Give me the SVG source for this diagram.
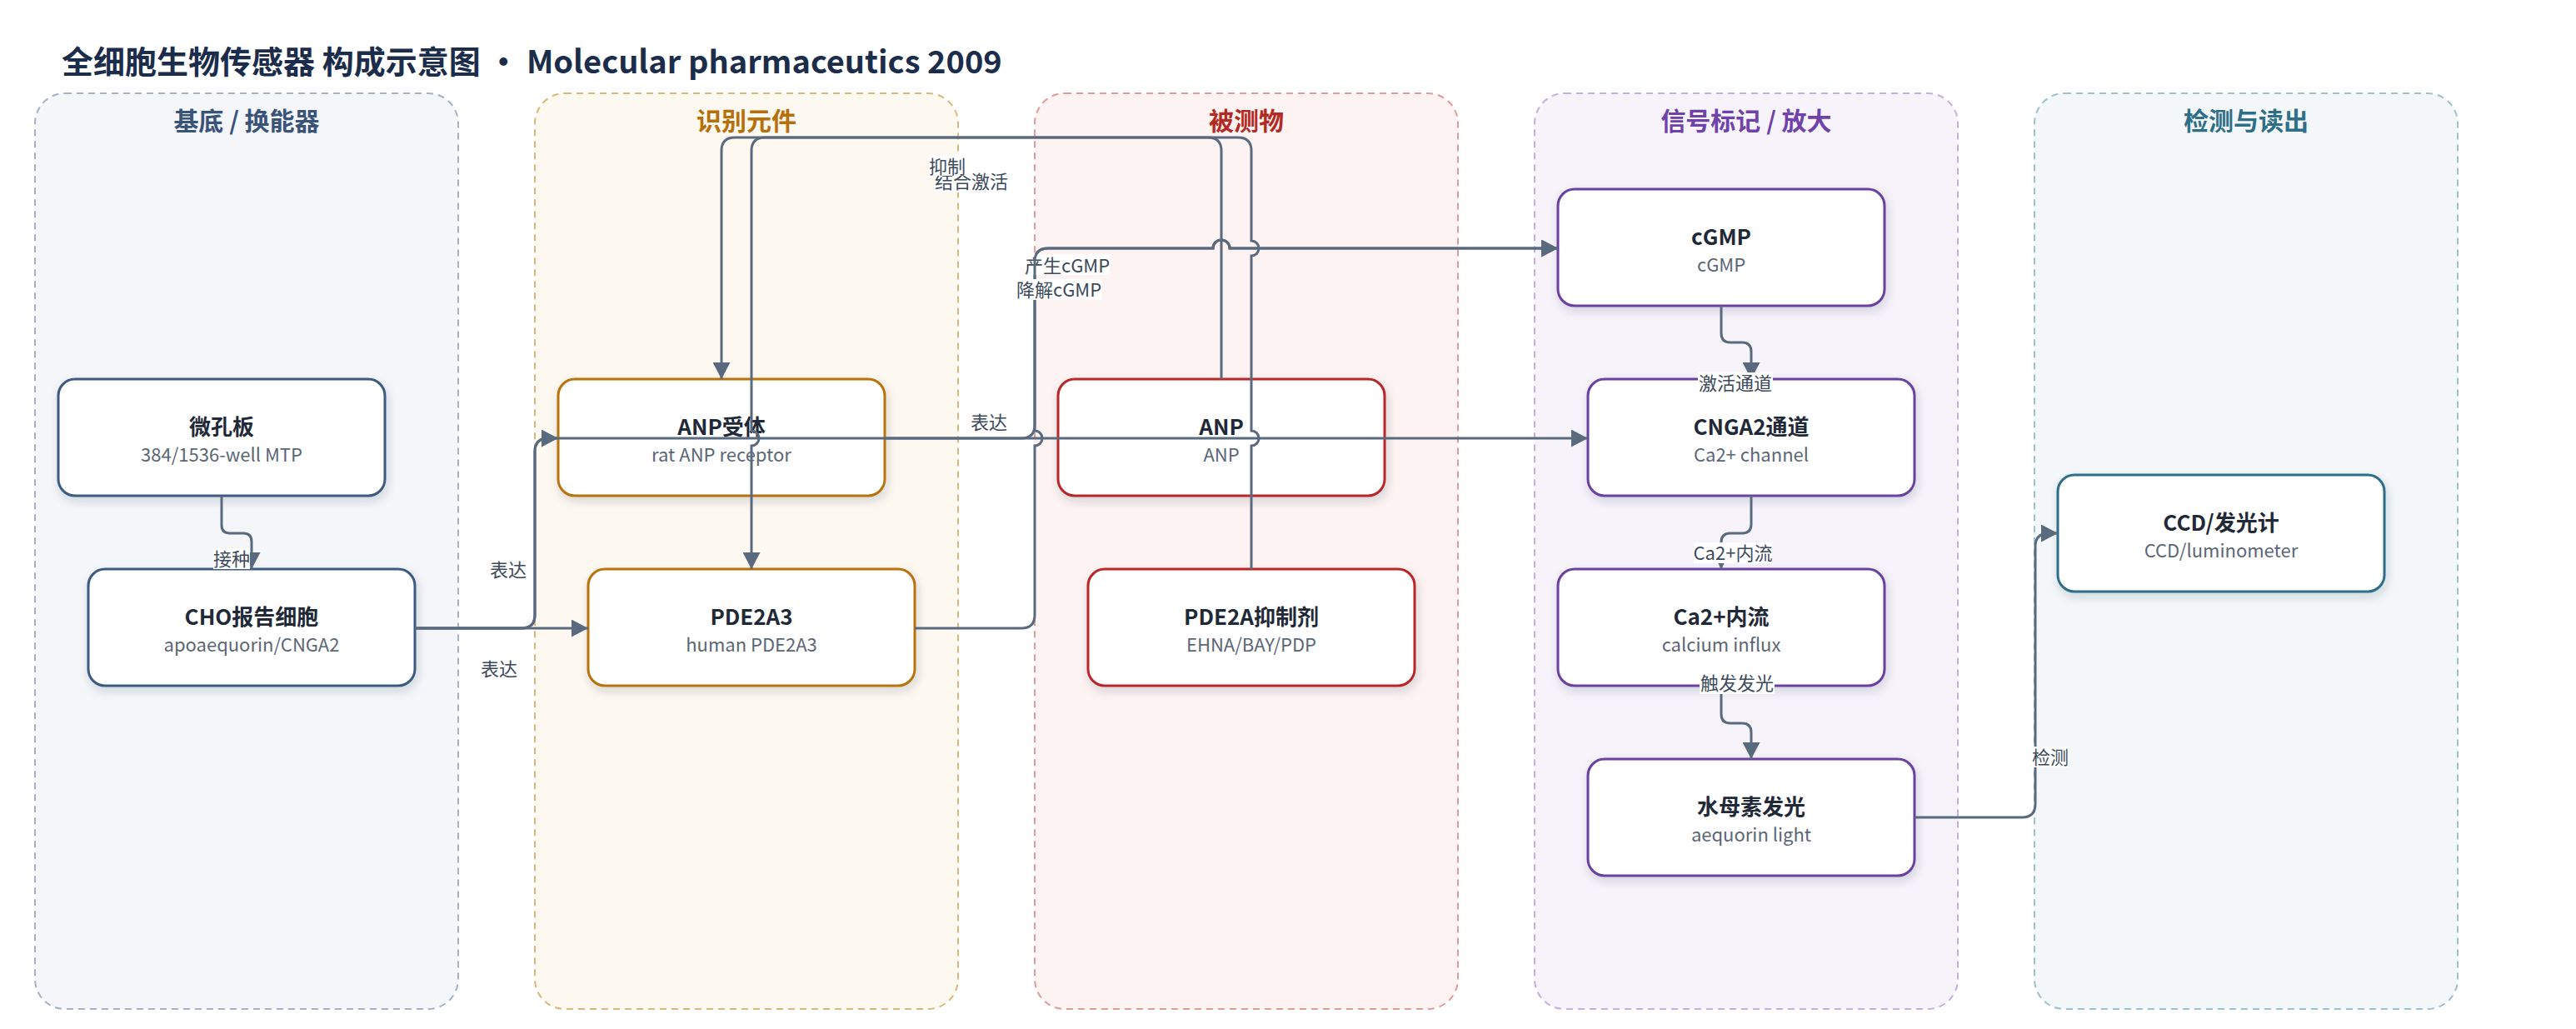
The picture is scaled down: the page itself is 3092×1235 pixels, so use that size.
<svg xmlns="http://www.w3.org/2000/svg" width="3092" height="1235" viewBox="0 0 3092 1235">
<style>
text{font-family:"Noto Sans CJK SC","Noto Sans",sans-serif}
.title{font-size:38px;font-weight:700;fill:#1b2d4a}
.lane{stroke-width:2;stroke-dasharray:8 6}
.lt{font-size:30px;font-weight:700;text-anchor:middle}
.node rect{fill:#ffffff;stroke-width:3;filter:url(#sh)}
.nt{font-size:26px;font-weight:700;fill:#1f2937;text-anchor:middle}
.ns{font-size:22px;fill:#5b6676;text-anchor:middle}
.e{fill:none;stroke:#5a6a7e;stroke-width:3;marker-end:url(#ah)}
.lb{font-size:22px;fill:#3d4a5c;text-anchor:middle}
.lbg{fill:#ffffff}
.c1 rect{stroke:#3e5a80}.c2 rect{stroke:#b8730a}.c3 rect{stroke:#b8282a}.c4 rect{stroke:#6a3fa0}.c5 rect{stroke:#2e6e88}
</style>
<defs>
<filter id="sh" x="-10%" y="-10%" width="125%" height="140%">
<feDropShadow dx="2" dy="5" stdDeviation="6" flood-color="#1e293b" flood-opacity="0.16"/>
</filter>
<marker id="ah" markerUnits="userSpaceOnUse" markerWidth="20" markerHeight="21" refX="20" refY="10.5" orient="auto">
<path d="M0,0 L20,10.5 L0,21 z" fill="#5a6a7e"/>
</marker>
</defs>
<rect width="3092" height="1235" fill="#ffffff"/>
<text class="title" x="74" y="88">全细胞生物传感器 构成示意图 • Molecular pharmaceutics 2009</text>

<g id="lanes">
<g id="lane-substrate"><rect class="lane" x="42" y="112" width="508" height="1099" rx="36" fill="#f4f6fa" stroke="#a3b2c8"/><text class="lt" x="296" y="156" fill="#3a5378">基底 / 换能器</text></g>
<g id="lane-recognition"><rect class="lane" x="642" y="112" width="508" height="1099" rx="36" fill="#fdf8f0" stroke="#dcb77c"/><text class="lt" x="896" y="156" fill="#b5700c">识别元件</text></g>
<g id="lane-analyte"><rect class="lane" x="1242" y="112" width="508" height="1099" rx="36" fill="#fdf3f2" stroke="#e09c9a"/><text class="lt" x="1496" y="156" fill="#b22a22">被测物</text></g>
<g id="lane-signal"><rect class="lane" x="1842" y="112" width="508" height="1099" rx="36" fill="#f7f3fb" stroke="#c6afe0"/><text class="lt" x="2096" y="156" fill="#6f42a8">信号标记 / 放大</text></g>
<g id="lane-readout"><rect class="lane" x="2442" y="112" width="508" height="1099" rx="36" fill="#f3f7f9" stroke="#9fc0cc"/><text class="lt" x="2696" y="156" fill="#2f6e87">检测与读出</text></g>
</g>

<g id="nodes">
<g id="n-mtp" class="node c1"><rect x="70" y="455" width="392" height="140" rx="20"/><text class="nt" x="266" y="522">微孔板</text><text class="ns" x="266" y="554">384/1536-well MTP</text></g>
<g id="n-cho" class="node c1"><rect x="106" y="683" width="392" height="140" rx="20"/><text class="nt" x="302" y="750">CHO报告细胞</text><text class="ns" x="302" y="782">apoaequorin/CNGA2</text></g>
<g id="n-anpr" class="node c2"><rect x="670" y="455" width="392" height="140" rx="20"/><text class="nt" x="866" y="522">ANP受体</text><text class="ns" x="866" y="554">rat ANP receptor</text></g>
<g id="n-pde" class="node c2"><rect x="706" y="683" width="392" height="140" rx="20"/><text class="nt" x="902" y="750">PDE2A3</text><text class="ns" x="902" y="782">human PDE2A3</text></g>
<g id="n-anp" class="node c3"><rect x="1270" y="455" width="392" height="140" rx="20"/><text class="nt" x="1466" y="522">ANP</text><text class="ns" x="1466" y="554">ANP</text></g>
<g id="n-inh" class="node c3"><rect x="1306" y="683" width="392" height="140" rx="20"/><text class="nt" x="1502" y="750">PDE2A抑制剂</text><text class="ns" x="1502" y="782">EHNA/BAY/PDP</text></g>
<g id="n-cgmp" class="node c4"><rect x="1870" y="227" width="392" height="140" rx="20"/><text class="nt" x="2066" y="294">cGMP</text><text class="ns" x="2066" y="326">cGMP</text></g>
<g id="n-cnga2" class="node c4"><rect x="1906" y="455" width="392" height="140" rx="20"/><text class="nt" x="2102" y="522">CNGA2通道</text><text class="ns" x="2102" y="554">Ca2+ channel</text></g>
<g id="n-ca" class="node c4"><rect x="1870" y="683" width="392" height="140" rx="20"/><text class="nt" x="2066" y="750">Ca2+内流</text><text class="ns" x="2066" y="782">calcium influx</text></g>
<g id="n-aeq" class="node c4"><rect x="1906" y="911" width="392" height="140" rx="20"/><text class="nt" x="2102" y="978">水母素发光</text><text class="ns" x="2102" y="1010">aequorin light</text></g>
<g id="n-ccd" class="node c5"><rect x="2470" y="570" width="392" height="140" rx="20"/><text class="nt" x="2666" y="637">CCD/发光计</text><text class="ns" x="2666" y="669">CCD/luminometer</text></g>
</g>

<g id="connectors">
<g id="e-mtp-cho"><path class="e" d="M266,595 V630 Q266,640 276,640 H292 Q302,640 302,650 V683"/>
<rect class="lbg" x="256" y="658" width="44" height="25"/><text class="lb" x="278" y="679">接种</text></g>
<g id="e-cho-anpr"><path class="e" d="M498,754 H626 Q642,754 642,738 V542 Q642,526 658,526 H670"/>
<text class="lb" x="610" y="692">表达</text></g>
<g id="e-cho-pde"><path class="e" d="M498,754 H706"/>
<text class="lb" x="599" y="811">表达</text></g>
<g id="e-cho-cnga2"><path class="e" d="M498,754 H626 Q642,754 642,738 V542 Q642,526 658,526 H1906"/>
<text class="lb" x="1187" y="515">表达</text></g>
<g id="e-anp-anpr"><path class="e" d="M1466,455 V181 Q1466,165 1450,165 H882 Q866,165 866,181 V455"/>
<rect class="lbg" x="1121" y="205" width="91" height="26"/><text class="lb" x="1166" y="226">结合激活</text></g>
<g id="e-inh-pde"><path class="e" d="M1502,683 V535 A9,9 0 0 0 1502,517 V307 A9,9 0 0 0 1502,289 V181 Q1502,165 1486,165 H918 Q902,165 902,181 V517 A9,9 0 0 1 902,535 V683"/>
<rect class="lbg" x="1115" y="186" width="44" height="25"/><text class="lb" x="1137" y="208">抑制</text></g>
<g id="e-anpr-cgmp"><path class="e" d="M1062,526 H1226 Q1242,526 1242,510 V314 Q1242,298 1258,298 H1456 A10,10 0 0 1 1476,298 H1870"/>
<rect class="lbg" x="1231" y="305" width="101" height="25"/><text class="lb" x="1281" y="327">产生cGMP</text></g>
<g id="e-pde-cgmp"><path class="e" d="M1098,754 H1226 Q1242,754 1242,738 V535 A9,9 0 0 0 1242,517 V314 Q1242,298 1258,298 H1456 A10,10 0 0 1 1476,298 H1870"/>
<rect class="lbg" x="1220" y="335" width="102" height="25"/><text class="lb" x="1271" y="356">降解cGMP</text></g>
<g id="e-cgmp-cnga2"><path class="e" d="M2066,367 V400 Q2066,411 2077,411 H2091 Q2102,411 2102,422 V455"/>
<rect class="lbg" x="2038" y="447" width="90" height="25"/><text class="lb" x="2083" y="468">激活通道</text></g>
<g id="e-cnga2-ca"><path class="e" d="M2102,595 V629 Q2102,640 2091,640 H2077 Q2066,640 2066,651 V683"/>
<rect class="lbg" x="2033" y="651" width="94" height="25"/><text class="lb" x="2080" y="672">Ca2+内流</text></g>
<g id="e-ca-aeq"><path class="e" d="M2066,823 V857 Q2066,868 2077,868 H2091 Q2102,868 2102,879 V911"/>
<rect class="lbg" x="2040" y="808" width="90" height="25"/><text class="lb" x="2085" y="828">触发发光</text></g>
<g id="e-aeq-ccd"><path class="e" d="M2298,981 H2427 Q2443,981 2443,965 V656 Q2443,640 2459,640 H2470"/>
<rect class="lbg" x="2439" y="896" width="44" height="25"/><text class="lb" x="2461" y="917">检测</text></g>
</g>
</svg>
